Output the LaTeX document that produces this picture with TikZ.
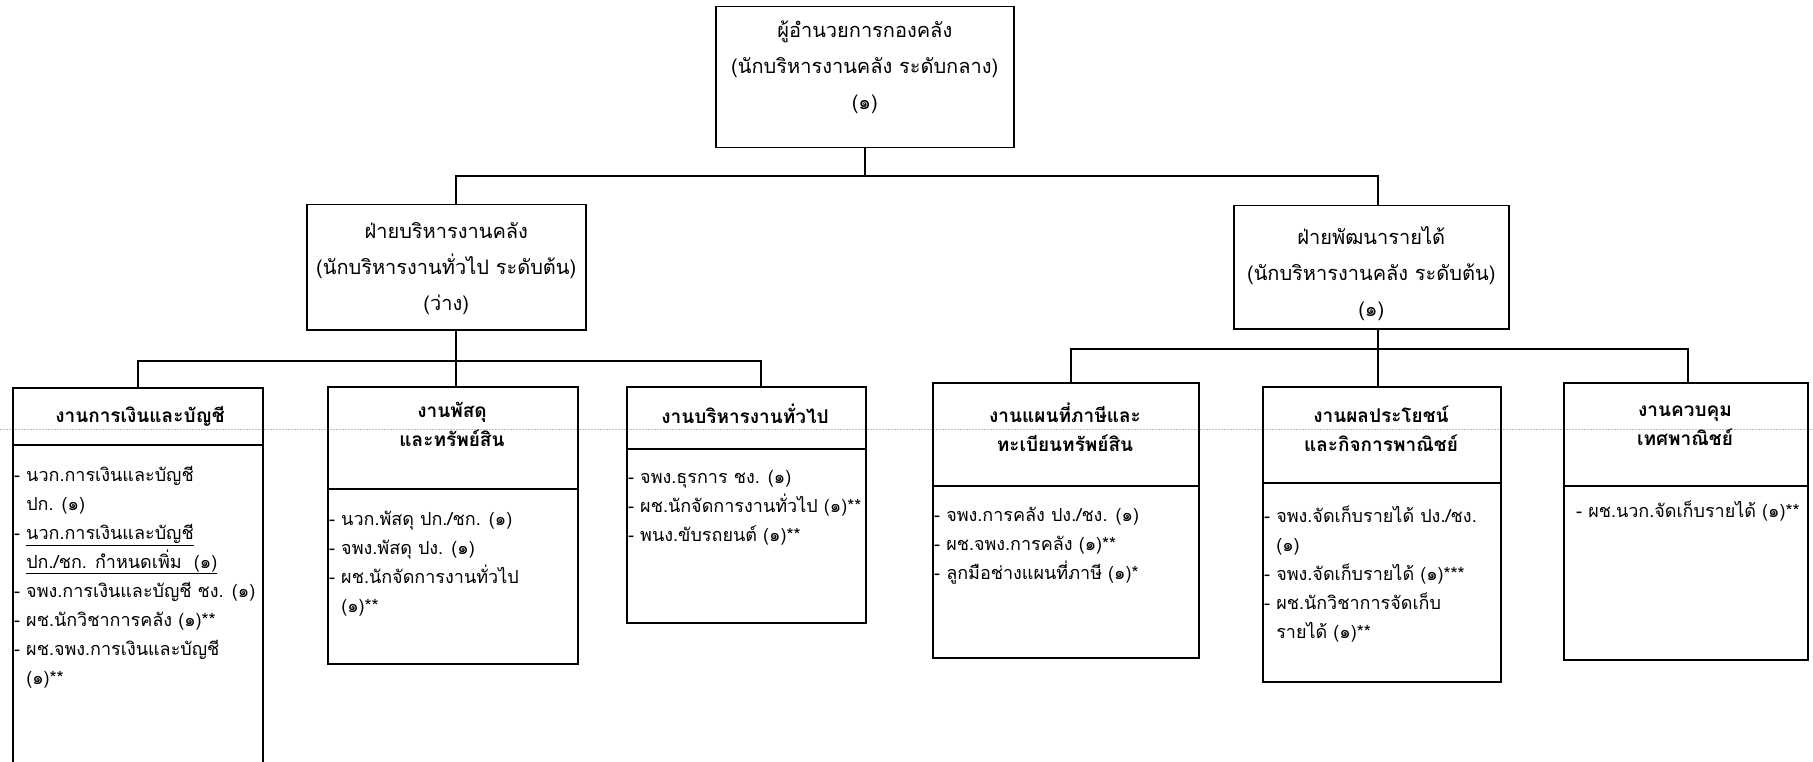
\documentclass[tikz,border=0pt]{standalone}
\usepackage{fontspec}
\setmainfont[Script=Thai]{Loma}
\newcommand{\tightlines}{\lineskiplimit=-50pt\relax}
\newcommand{\bigfont}{\fontsize{20}{36}\selectfont\tightlines}
\newcommand{\listfont}{\fontsize{18}{29}\selectfont\tightlines}
\newcommand{\headfont}{\fontsize{19}{29}\selectfont\bfseries\tightlines}
\begin{document}
\begin{tikzpicture}[x=1pt,y=-1pt,
  boxsty/.style={draw, line width=1.5pt, inner sep=0pt, anchor=north west},
  conn/.style={line width=1.5pt},
  divline/.style={line width=1.5pt},
  scanline/.style={line width=0.7pt, gray!55, dash pattern=on 1.5pt off 1.5pt},
  bigtxt/.style={align=center, font=\bigfont, inner sep=0pt},
  headtxt/.style={align=center, font=\headfont, inner sep=0pt},
  listtxt/.style={align=left, font=\listfont, inner sep=0pt, anchor=north west},
]
\fill[white] (0,0) rectangle (1813,762);
\useasboundingbox (0,0) rectangle (1813,762);

% scan artefact
\draw[scanline] (0,429) -- (1813,429);

% top level
\node[boxsty, minimum width=298pt, minimum height=141pt] (top) at (715,6) {};
\node[bigtxt] (topt) at ([yshift=9.5pt]top.center) {ผู้อำนวยการกองคลัง\\(นักบริหารงานคลัง ระดับกลาง)\\(๑)};

% middle level
\node[boxsty, minimum width=279pt, minimum height=125pt] (midL) at (306,204) {};
\node[bigtxt] (midLt) at ([yshift=-1.5pt]midL.center) {ฝ่ายบริหารงานคลัง\\(นักบริหารงานทั่วไป ระดับต้น)\\(ว่าง)};
\node[boxsty, minimum width=275pt, minimum height=123pt] (midR) at (1233,205) {};
\node[bigtxt] (midRt) at ([yshift=-6pt]midR.center) {ฝ่ายพัฒนารายได้\\(นักบริหารงานคลัง ระดับต้น)\\(๑)};

% lower level boxes
\node[boxsty, minimum width=250pt, minimum height=400pt] (b1) at (12,387) {};
\node[boxsty, minimum width=250pt, minimum height=277pt] (b2) at (327,386) {};
\node[boxsty, minimum width=239pt, minimum height=236pt] (b3) at (626,386) {};
\node[boxsty, minimum width=266pt, minimum height=275pt] (b4) at (932,382) {};
\node[boxsty, minimum width=238pt, minimum height=295pt] (b5) at (1262,386) {};
\node[boxsty, minimum width=244pt, minimum height=277pt] (b6) at (1563,382) {};

\coordinate (d1) at (0,445);
\coordinate (d2) at (0,489);
\coordinate (d3) at (0,449);
\coordinate (d4) at (0,486);
\coordinate (d5) at (0,483);
\coordinate (d6) at (0,486);
\draw[divline] (b1.west |- d1) -- (b1.east |- d1);
\draw[divline] (b2.west |- d2) -- (b2.east |- d2);
\draw[divline] (b3.west |- d3) -- (b3.east |- d3);
\draw[divline] (b4.west |- d4) -- (b4.east |- d4);
\draw[divline] (b5.west |- d5) -- (b5.east |- d5);
\draw[divline] (b6.west |- d6) -- (b6.east |- d6);

% headers
\node[headtxt] (h1t) at (140,416) {งานการเงินและบัญชี};
\node[headtxt] (h2t) at (452,424) {งานพัสดุ\\และทรัพย์สิน};
\node[headtxt] (h3t) at (745,414) {งานบริหารงานทั่วไป};
\node[headtxt] (h4t) at (1065,427) {งานแผนที่ภาษีและ\\ทะเบียนทรัพย์สิน};
\node[headtxt] (h5t) at (1381,429) {งานผลประโยชน์\\และกิจการพาณิชย์};
\node[headtxt] (h6t) at (1685,426) {งานควบคุม\\เทศพาณิชย์};

% lists
\node[listtxt] (l1) at (14,461) {\strut- นวก.การเงินและบัญชี\\
\hphantom{- }ปก. (๑)\\
- \underline{นวก.การเงินและบัญชี}\\
\hphantom{- }\underline{ปก./ชก. กำหนดเพิ่ม\ \ (๑)}\\
- จพง.การเงินและบัญชี ชง. (๑)\\
- ผช.นักวิชาการคลัง (๑)**\\
- ผช.จพง.การเงินและบัญชี\\
\hphantom{- }(๑)**};
\node[listtxt] (l2) at (329,505) {\strut- นวก.พัสดุ ปก./ชก. (๑)\\
- จพง.พัสดุ ปง. (๑)\\
- ผช.นักจัดการงานทั่วไป\\
\hphantom{- }(๑)**};
\node[listtxt] (l3) at (628,463) {\strut- จพง.ธุรการ ชง. (๑)\\
- ผช.นักจัดการงานทั่วไป (๑)**\\
- พนง.ขับรถยนต์ (๑)**};
\node[listtxt] (l4) at (934,501) {\strut- จพง.การคลัง ปง./ชง. (๑)\\
- ผช.จพง.การคลัง (๑)**\\
- ลูกมือช่างแผนที่ภาษี (๑)*};
\node[listtxt] (l5) at (1264,502) {\strut- จพง.จัดเก็บรายได้ ปง./ชง.\\
\hphantom{- }(๑)\\
- จพง.จัดเก็บรายได้ (๑)***\\
- ผช.นักวิชาการจัดเก็บ\\
\hphantom{- }รายได้ (๑)**};
\node[listtxt] (l6) at (1576,497) {\strut- ผช.นวก.จัดเก็บรายได้ (๑)**};

% connectors
\coordinate (h1) at (0,176);
\coordinate (h2) at (0,361);
\coordinate (h3) at (0,349);
\coordinate (pL) at ([xshift=9.5pt]midL.north);
\coordinate (pR) at ([xshift=6.5pt]midR.north);
\coordinate (pLb) at ([xshift=9.5pt]midL.south);
\coordinate (pRb) at ([xshift=6.5pt]midR.south);
\coordinate (q3) at ([xshift=14.5pt]b3.north);
\coordinate (q4) at ([xshift=5pt]b4.north);
\coordinate (q6) at ([xshift=2pt]b6.north);

\draw[conn] (top.south) -- (top.south |- h1);
\draw[conn] (pL) |- (h1 -| pR) -- (pR);
\draw[conn] (pLb) -- (pLb |- b2.north);
\draw[conn] (b1.north) |- (h2 -| q3) -- (q3);
\draw[conn] (pRb) -- (pRb |- b5.north);
\draw[conn] (q4) |- (h3 -| q6) -- (q6);
\end{tikzpicture}
\end{document}
